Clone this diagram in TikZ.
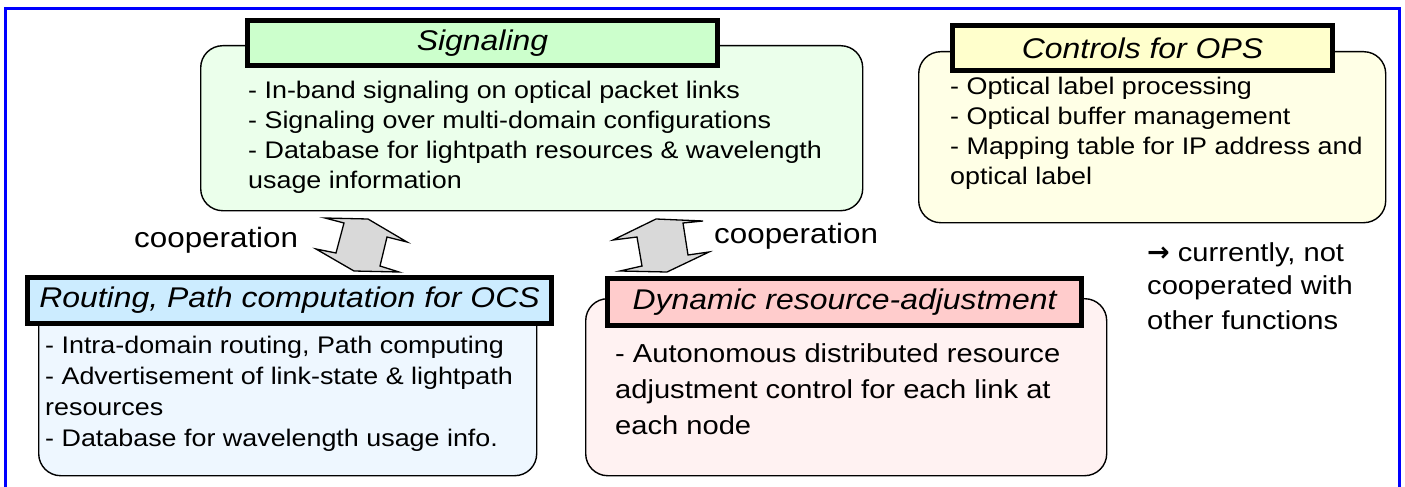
\documentclass[tikz,border=0pt]{standalone}
\usepackage{fontspec}
\setmainfont[FakeStretch=1.12]{Liberation Sans}
\newfontfamily\arrowfont{DejaVu Sans}
\definecolor{frameblue}{HTML}{0000FF}
\definecolor{sigTitle}{HTML}{CCFFCC}
\definecolor{sigBody}{HTML}{EBFFEB}
\definecolor{opsTitle}{HTML}{FFFFCC}
\definecolor{opsBody}{HTML}{FFFFE6}
\definecolor{ocsTitle}{HTML}{CCECFF}
\definecolor{ocsBody}{HTML}{EEF7FF}
\definecolor{dynTitle}{HTML}{FFCCCC}
\definecolor{dynBody}{HTML}{FFF2F2}
\definecolor{arrowgray}{HTML}{D9D9D9}
\begin{document}
\begin{tikzpicture}[x=1pt,y=-1pt,
  bodybox/.style={draw=black, line width=1.4pt, rounded corners=22pt, anchor=north west, inner sep=0pt},
  titlebox/.style={draw=black, line width=4.8pt, inner sep=0pt, font=\fontsize{28.5}{34}\selectfont\itshape},
  txt/.style={anchor=base west, inner sep=0pt, font=\fontsize{24}{30}\selectfont},
  txtb/.style={anchor=base west, inner sep=0pt, font=\fontsize{26}{32}\selectfont},
  coop/.style={anchor=base west, inner sep=0pt, font=\fontsize{28}{34}\selectfont},
  blockarrow/.style={draw=black, line width=1.3pt, fill=arrowgray, line join=miter},
  frameline/.style={draw=frameblue, line width=3pt}
]
\useasboundingbox (0,0) rectangle (1405,487);
\fill[white] (0,0) rectangle (1405,487);

% frame
\draw[frameline] (5,487) -- (5,9) -- (1399,9) -- (1399,487);

% body boxes
\node[bodybox, fill=sigBody, minimum width=662pt, minimum height=165pt] (sigB) at (200,45) {};
\node[bodybox, fill=opsBody, minimum width=467pt, minimum height=171pt] (opsB) at (918,51) {};
\node[bodybox, fill=ocsBody, minimum width=498pt, minimum height=175pt] (ocsB) at (38,300) {};
\node[bodybox, fill=dynBody, minimum width=521pt, minimum height=177pt] (dynB) at (585,298) {};

% title boxes
\node[titlebox, fill=sigTitle, minimum width=470.5pt, minimum height=45.5pt] (sigT) at (482.5,43) {Signaling};
\node[titlebox, fill=opsTitle, minimum width=380.5pt, minimum height=45.5pt] (opsT) at (1142.5,48) {Controls for OPS};
\node[titlebox, fill=ocsTitle, minimum width=524.5pt, minimum height=46.5pt] (ocsT) at (289.5,300.5) {Routing, Path computation for OCS};
\node[titlebox, fill=dynTitle, minimum width=474.5pt, minimum height=47.5pt] (dynT) at (844.5,302) {Dynamic resource-adjustment};

% signaling text
\node[txt] (s1) at (248,98) {- In-band signaling on optical packet links};
\node[txt] (s2) at (248,128) {- Signaling over multi-domain configurations};
\node[txt] (s3) at (248,158) {- Database for lightpath resources \& wavelength};
\node[txt] (s4) at (248,188) {usage information};

% OPS text
\node[txt] (o1) at (950,94) {- Optical label processing};
\node[txt] (o2) at (950,124) {- Optical buffer management};
\node[txt] (o3) at (950,154) {- Mapping table for IP address and};
\node[txt] (o4) at (950,184) {optical label};

% OCS text
\node[txt] (r1) at (45,353) {- Intra-domain routing, Path computing};
\node[txt] (r2) at (45,384) {- Advertisement of link-state \& lightpath};
\node[txt] (r3) at (45,415) {resources};
\node[txt] (r4) at (45,446) {- Database for wavelength usage info.};

% dynamic text
\node[txtb] (d1) at (615,362) {- Autonomous distributed resource};
\node[txtb] (d2) at (615,398) {adjustment control for each link at};
\node[txtb] (d3) at (615,434) {each node};

% side note
\node[txtb] (n1) at (1147,261) {{\arrowfont\bfseries\fontsize{27}{30}\selectfont →} currently, not};
\node[txtb] (n2) at (1147,294) {cooperated with};
\node[txtb] (n3) at (1147,329) {other functions};

% cooperation labels
\node[coop] (c1) at (134,247) {cooperation};
\node[coop] (c2) at (714,243) {cooperation};

% block arrows
\draw[blockarrow] (325,218) -- (368,219) -- (407,242) -- (387,237) -- (380,266) -- (399,272) -- (354,271) -- (316,249) -- (336,253) -- (344,223) -- cycle;
\draw[blockarrow] (656,219) -- (703,221) -- (683,223) -- (688,255) -- (709,252) -- (667,272) -- (620,271) -- (642,266) -- (637,237) -- (613,240) -- cycle;
\end{tikzpicture}
\end{document}
